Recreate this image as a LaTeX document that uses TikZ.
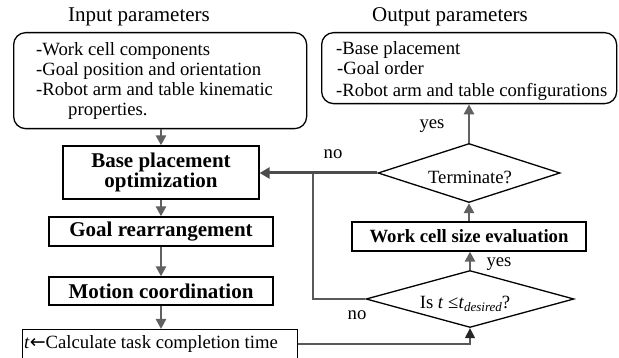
\documentclass[tikz,border=0pt]{standalone}
\usepackage{fontspec}
\setmainfont{Liberation Serif}
\newfontfamily\arrowfont{DejaVu Sans}
\usetikzlibrary{shapes.geometric,arrows.meta}
\tikzset{
  every node/.style={font=\fontsize{18.7}{19}\selectfont},
  titletext/.style={font=\fontsize{21}{22}\selectfont},
  listbox/.style={draw=black,line width=1.3pt,rounded corners=12pt},
  listtext/.style={inner sep=0pt,align=left,anchor=north west},
  stepbox/.style={draw=black,line width=1.3pt,inner sep=0pt,
    font=\fontsize{21}{19.5}\selectfont\bfseries,align=center},
  decision/.style={draw=black,line width=1.3pt,diamond,inner sep=0pt,aspect=3},
  flow/.style={draw=black!62,line width=2.7pt,-{Triangle[length=10pt,width=10pt]}},
  backflow/.style={draw=black!70,line width=3pt,-{Triangle[length=10pt,width=11pt]}},
  loopline/.style={draw=black!65,line width=1.4pt},
  tag/.style={font=\fontsize{18.7}{19}\selectfont},
}
\begin{document}
\begin{tikzpicture}[x=1pt,y=-1pt]
\useasboundingbox (0,0) rectangle (619,358);

% input side
\node[titletext] (intitle) at (139,17) {Input parameters};
\node[listbox,minimum width=293pt,minimum height=96pt,anchor=north west] (inbox) at (13,32) {};
\node[listtext,font=\fontsize{18.7}{20}\selectfont] (intext) at (36,42)
  {-Work cell components\\-Goal position and orientation\\-Robot arm and table kinematic\\\hspace*{32pt}properties.};

% output side
\node[titletext] (outtitle) at (450,17) {Output parameters};
\node[listbox,minimum width=295pt,minimum height=71pt,anchor=north west] (outbox) at (321,32) {};
\node[listtext] (outtext) at (336,41)
  {-Base placement\\[1.5pt]\hspace*{1pt}-Goal order\\[3pt]-Robot arm and table configurations};

% main chain
\node[stepbox,minimum width=196pt,minimum height=53pt] (base) at (161,172.5) {Base placement\\optimization};
\node[stepbox,minimum width=224pt,minimum height=29pt] (goal) at (161,231.5) {Goal rearrangement};
\node[stepbox,minimum width=224pt,minimum height=28pt] (motion) at (161,291) {Motion coordination};
\node[draw=black,line width=1.3pt,minimum width=275pt,minimum height=44pt,anchor=north west,inner sep=0pt] (calc) at (22,329) {};
\node[anchor=west,inner sep=0pt] (calctext) at (24,344)
  {\textit{t}{\arrowfont\fontsize{19}{19}\selectfont ←}Calculate task completion time};

% decision chain
\node[decision,minimum width=208pt,minimum height=57pt] (ist) at (470,299) {};
\node[inner sep=0pt] (isttext) at (465,304)
  {Is \textit{t} ≤\textit{t}\raisebox{-3pt}{\fontsize{13}{13}\selectfont\textit{desired}}?};
\node[stepbox,font=\fontsize{18.7}{19}\selectfont\bfseries,minimum width=234pt,minimum height=29pt] (work) at (469,236.5) {Work cell size evaluation};
\node[decision,minimum width=182pt,minimum height=59pt] (term) at (469,173) {};
\node[inner sep=0pt] (termtext) at (470,177) {Terminate?};

% connectors
\draw[flow] (inbox.south -| base.north) -- (base.north);
\draw[flow] (base.south -| goal.north) -- (goal.north);
\draw[flow] (goal.south) -- (motion.north);
\draw[flow] (motion.south) -- (motion.south |- calc.north);

\coordinate (calcout) at (calc.north east |- 0,344);
\draw[loopline,-{Triangle[length=10pt,width=10pt,color=black!85]}] (calcout) -- (calcout -| ist.south) -- (ist.south);
\draw[flow] (ist.north) -- (work.south -| ist.north);
\draw[flow] (work.north -| term.south) -- (term.south);
\draw[flow] (term.north) -- (outbox.south -| term.north);

\coordinate (loopcorner) at (313,299);
\coordinate (looptop) at (313,173);
\draw[loopline] (ist.west) -- (loopcorner) -- (looptop);
\draw[backflow] (term.west) -- (term.west -| base.east);

% branch labels
\node[tag] (yes1) at (432,126) {yes};
\node[tag] (yes2) at (499,264) {yes};
\node[tag] (no1) at (333,154) {no};
\node[tag] (no2) at (357,315) {no};
\end{tikzpicture}
\end{document}
